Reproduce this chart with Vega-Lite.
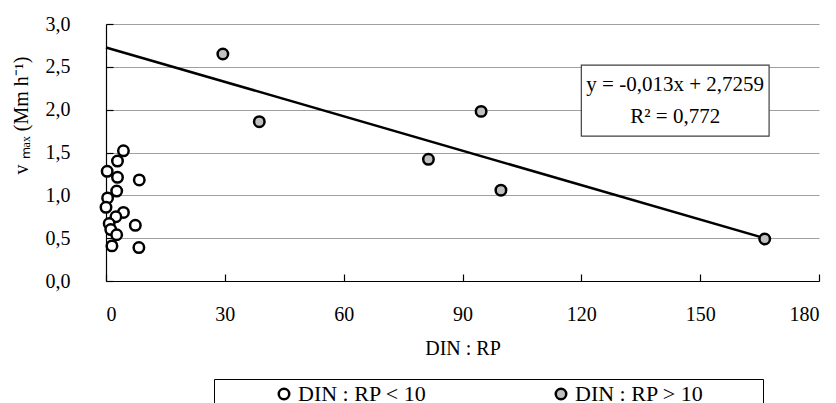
{
  "$schema": "https://vega.github.io/schema/vega-lite/v6.json",
  "autosize": "none",
  "width": 713,
  "height": 257,
  "padding": {"left": 106, "top": 24, "right": 17, "bottom": 122},
  "background": "white",
  "config": {
    "font": "Liberation Serif",
    "view": {"stroke": null},
    "axis": {
      "labelFont": "Liberation Serif",
      "titleFont": "Liberation Serif",
      "labelFontSize": 20,
      "titleFontSize": 20,
      "labelColor": "black",
      "titleColor": "black",
      "titleFontWeight": "normal",
      "domainColor": "black",
      "domainWidth": 1.2,
      "tickColor": "black",
      "tickWidth": 1.2,
      "tickSize": -7
    },
    "legend": {
      "labelFont": "Liberation Serif",
      "titleFont": "Liberation Serif"
    }
  },
  "datasets": {
    "points": [
      {"ratio": 4.4, "vmax": 1.52, "group": "DIN : RP < 10"},
      {"ratio": 2.9, "vmax": 1.40, "group": "DIN : RP < 10"},
      {"ratio": 0.3, "vmax": 1.28, "group": "DIN : RP < 10"},
      {"ratio": 2.9, "vmax": 1.21, "group": "DIN : RP < 10"},
      {"ratio": 8.4, "vmax": 1.18, "group": "DIN : RP < 10"},
      {"ratio": 2.7, "vmax": 1.05, "group": "DIN : RP < 10"},
      {"ratio": 0.4, "vmax": 0.97, "group": "DIN : RP < 10"},
      {"ratio": 0.0, "vmax": 0.86, "group": "DIN : RP < 10"},
      {"ratio": 4.4, "vmax": 0.80, "group": "DIN : RP < 10"},
      {"ratio": 2.5, "vmax": 0.75, "group": "DIN : RP < 10"},
      {"ratio": 0.8, "vmax": 0.67, "group": "DIN : RP < 10"},
      {"ratio": 7.4, "vmax": 0.65, "group": "DIN : RP < 10"},
      {"ratio": 1.2, "vmax": 0.60, "group": "DIN : RP < 10"},
      {"ratio": 2.7, "vmax": 0.54, "group": "DIN : RP < 10"},
      {"ratio": 1.5, "vmax": 0.41, "group": "DIN : RP < 10"},
      {"ratio": 8.3, "vmax": 0.39, "group": "DIN : RP < 10"},
      {"ratio": 29.5, "vmax": 2.65, "group": "DIN : RP > 10"},
      {"ratio": 38.7, "vmax": 1.86, "group": "DIN : RP > 10"},
      {"ratio": 81.4, "vmax": 1.42, "group": "DIN : RP > 10"},
      {"ratio": 94.7, "vmax": 1.98, "group": "DIN : RP > 10"},
      {"ratio": 99.7, "vmax": 1.06, "group": "DIN : RP > 10"},
      {"ratio": 166.3, "vmax": 0.49, "group": "DIN : RP > 10"}
    ],
    "trend": [
      {"ratio": 0, "vmax": 2.7259},
      {"ratio": 166.3, "vmax": 0.50}
    ],
    "box": [
      {"bxa": 120, "bxb": 167.4, "bya": 1.69, "byb": 2.52}
    ],
    "eq": [
      {"label": "y = -0,013x + 2,7259", "ex": 143.7, "ey": 2.29},
      {"label": "R² = 0,772", "ex": 143.7, "ey": 1.92}
    ]
  },
  "layer": [
    {
      "data": {"name": "trend"},
      "mark": {"type": "line", "color": "black", "strokeWidth": 2.5},
      "encoding": {
        "x": {"field": "ratio", "type": "quantitative", "scale": {"domain": [0, 180], "nice": false}},
        "y": {"field": "vmax", "type": "quantitative", "scale": {"domain": [0, 3], "nice": false}}
      }
    },
    {
      "data": {"name": "points"},
      "mark": {"type": "point", "shape": "circle", "filled": true, "stroke": "black", "strokeWidth": 2.5, "size": 110, "opacity": 1},
      "encoding": {
        "x": {
          "field": "ratio", "type": "quantitative",
          "scale": {"domain": [0, 180], "nice": false},
          "axis": {
            "title": "DIN : RP",
            "values": [0, 30, 60, 90, 120, 150, 180],
            "grid": false,
            "labelPadding": 30,
            "titleY": 67,
            "titleBaseline": "middle"
          }
        },
        "y": {
          "field": "vmax", "type": "quantitative",
          "scale": {"domain": [0, 3], "nice": false},
          "axis": {
            "title": "v ₘₐₓ  (Mm h⁻¹)",
            "values": [0, 0.5, 1, 1.5, 2, 2.5, 3],
            "labelExpr": "replace(format(datum.value, '.1f'), '.', ',')",
            "grid": true,
            "gridColor": "#a0a0a0",
            "gridWidth": 1.2,
            "labelPadding": 43,
            "titleX": -85,
            "titleY": 91,
            "titleAlign": "center",
            "titleBaseline": "middle",
            "titleAngle": -90
          }
        },
        "fill": {
          "field": "group", "type": "nominal",
          "scale": {"domain": ["DIN : RP < 10", "DIN : RP > 10"], "range": ["white", "#c0c0c0"]},
          "legend": {
            "orient": "none",
            "legendX": 108,
            "legendY": 355,
            "direction": "horizontal",
            "title": "\u00a0",
            "titleOrient": "left",
            "titlePadding": 55,
            "titleFontSize": 20,
            "strokeColor": "black",
            "fillColor": "white",
            "padding": 4,
            "columnPadding": 123,
            "labelFontSize": 22,
            "labelColor": "black",
            "labelOffset": 3,
            "labelLimit": 400,
            "labelExpr": "indexof(datum.label, '>') >= 0 ? datum.label + '\u00a0\u00a0\u00a0\u00a0\u00a0\u00a0\u00a0\u00a0\u00a0\u00a0\u200b' : datum.label",
            "symbolType": "circle",
            "symbolSize": 110,
            "symbolStrokeColor": "black",
            "symbolStrokeWidth": 2.5
          }
        }
      }
    },
    {
      "data": {"name": "box"},
      "mark": {"type": "rect", "fill": "white", "stroke": "#404040", "strokeWidth": 1.2},
      "encoding": {
        "x": {"field": "bxa", "type": "quantitative"},
        "x2": {"field": "bxb"},
        "y": {"field": "bya", "type": "quantitative"},
        "y2": {"field": "byb"}
      }
    },
    {
      "data": {"name": "eq"},
      "mark": {"type": "text", "font": "Liberation Serif", "fontSize": 21, "color": "black", "align": "center", "baseline": "middle"},
      "encoding": {
        "x": {"field": "ex", "type": "quantitative"},
        "y": {"field": "ey", "type": "quantitative"},
        "text": {"field": "label"}
      }
    }
  ]
}
